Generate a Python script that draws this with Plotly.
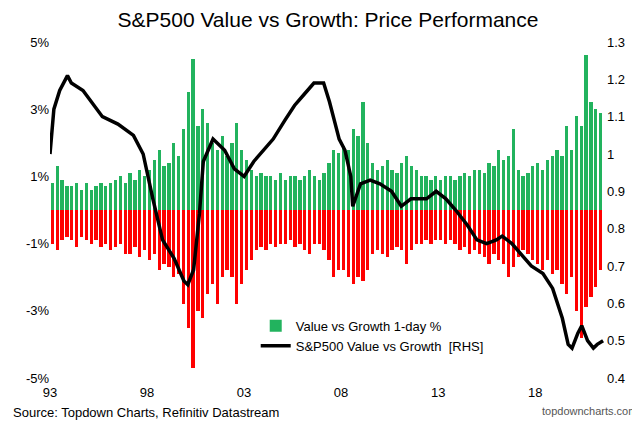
import plotly.graph_objects as go

line_years = [1993.0,1993.2,1993.5,1993.9,1994.1,1994.7,1995.7,1996.5,1997.3,1997.8,1998.3,1998.8,1999.4,1999.9,2000.1,2000.4,2000.7,2000.9,2001.4,2002.0,2002.5,2003.0,2003.5,2004.0,2004.5,2005.1,2005.6,2006.1,2006.6,2007.1,2007.4,2007.7,2007.9,2008.2,2008.5,2008.6,2009.0,2009.5,2010.0,2010.6,2011.1,2011.6,2012.4,2012.9,2013.4,2013.9,2014.5,2015.0,2015.5,2016.0,2016.3,2016.8,2017.3,2017.8,2018.4,2018.9,2019.4,2019.7,2019.9,2020.2,2020.4,2020.7,2021.0,2021.2,2021.5]
line_vals = [1.00,1.12,1.17,1.21,1.19,1.17,1.10,1.08,1.05,1.00,0.88,0.77,0.72,0.66,0.65,0.69,0.84,0.98,1.04,1.01,0.96,0.94,0.98,1.01,1.04,1.09,1.13,1.16,1.19,1.19,1.14,1.08,1.04,1.01,0.94,0.86,0.92,0.93,0.92,0.90,0.86,0.88,0.88,0.90,0.88,0.85,0.81,0.77,0.76,0.77,0.78,0.76,0.73,0.70,0.68,0.64,0.56,0.49,0.48,0.52,0.54,0.50,0.48,0.49,0.50]

pos_vals = [.8,1.3,.9,.7, .7,.8,.6,.8, .6,.7,.8,.7, .8,.9,1.0,.8, 1.1,.9,1.2,1.0,
            1.2,1.5,1.8,1.3, 1.4,2.0,1.6,2.4, 3.5,4.5,2.5,3.0, 2.6,2.0,1.8,2.2, 1.6,2.0,2.6,1.8,
            1.5,1.2,1.0,1.1, 1.0,1.0,0.9,1.1, 0.9,1.0,1.0,0.9, 1.0,1.2,1.0,0.9, 1.1,1.4,1.8,1.7,
            1.9,1.8,2.4,2.2, 3.2,2.0,1.4,1.2, 1.3,1.5,1.2,1.1, 1.4,1.6,1.3,1.2, 1.0,1.0,0.9,1.0,
            0.9,1.0,1.0,0.9, 1.0,1.1,1.0,1.2, 1.2,1.1,1.4,1.3, 1.8,1.5,1.6,2.4, 1.2,1.0,1.1,1.3,
            1.4,1.2,1.5,1.6, 1.8,1.6,2.5,1.8, 2.8,2.5,4.6,3.2, 3.0,2.9]
neg_vals = [-1.0,-1.2,-0.9,-0.8, -0.9,-1.1,-0.8,-0.9, -1.0,-0.9,-1.1,-1.0, -1.2,-1.1,-1.0,-1.3, -1.3,-1.1,-1.4,-1.2,
            -1.5,-1.3,-1.8,-1.6, -1.7,-2.0,-1.9,-2.8, -3.5,-4.7,-3.0,-3.2, -2.5,-2.2,-2.8,-2.0, -1.8,-2.0,-2.8,-2.2,
            -1.8,-1.5,-1.2,-1.1, -1.2,-1.0,-1.1,-1.0, -1.0,-0.9,-1.1,-1.0, -1.2,-1.3,-1.0,-1.0, -1.2,-1.5,-2.0,-1.8,
            -1.8,-2.0,-2.2,-2.0, -2.1,-1.8,-1.3,-1.2, -1.3,-1.4,-1.2,-1.1, -1.2,-1.6,-1.2,-1.0, -1.0,-0.9,-1.0,-0.9,
            -0.9,-1.0,-0.9,-1.0, -1.2,-1.1,-1.3,-1.2, -1.3,-1.4,-1.6,-1.3, -1.5,-1.6,-2.0,-1.7, -1.4,-1.2,-1.3,-1.5,
            -1.6,-1.8,-1.5,-1.9, -1.8,-2.2,-2.5,-2.0, -3.0,-3.8,-2.9,-2.6, -2.3,-1.8]
bar_years = [1993.125 + 0.25 * i for i in range(len(pos_vals))]

x_tickvals = [1993, 1998, 2003, 2008, 2013, 2018]
x_ticktext = ["93", "98", "03", "08", "13", "18"]
yl_ticks = [-5, -3, -1, 1, 3, 5]
yr_ticks = [0.4, 0.5, 0.6, 0.7, 0.8, 0.9, 1.0, 1.1, 1.2, 1.3]

green = "#22b35e"
fig = go.Figure()
fig.add_trace(go.Bar(x=bar_years, y=pos_vals, width=0.17, marker=dict(color=green, line=dict(width=0)),
                     name="Value vs Growth 1-day %"))
fig.add_trace(go.Bar(x=bar_years, y=neg_vals, width=0.17, marker=dict(color="#ff0000", line=dict(width=0)),
                     showlegend=False))
fig.add_trace(go.Scatter(x=line_years, y=line_vals, yaxis="y2", mode="lines",
                         line=dict(color="black", width=3.5), name="S&P500 Value vs Growth  [RHS]"))

fig.update_layout(
    width=640, height=430, barmode="overlay", bargap=0,
    margin=dict(l=42, r=42, t=34, b=60),
    paper_bgcolor="white", plot_bgcolor="white",
    font=dict(family="Liberation Sans, Arial", size=13, color="black"),
    title=dict(text="S&P500 Value vs Growth: Price Performance", x=0.5, xanchor="center", y=0.99, yanchor="top",
               font=dict(size=21)),
    xaxis=dict(range=[1993, 2021.65], tickvals=x_tickvals, ticktext=x_ticktext, showgrid=False, zeroline=False,
               showline=False, ticks="outside", ticklen=2, tickcolor="white"),
    yaxis=dict(range=[-5, 5], tickvals=yl_ticks, ticktext=[f"{v}%" for v in yl_ticks], showgrid=False,
               zeroline=False, showline=False),
    yaxis2=dict(range=[0.4, 1.3], overlaying="y", side="right", tickvals=yr_ticks,
                ticktext=[("%g" % v) for v in yr_ticks], showgrid=False, zeroline=False),
    legend=dict(x=0.37, y=0.2, xanchor="left", yanchor="top", bgcolor="rgba(0,0,0,0)", font=dict(size=13)),
    annotations=[
        dict(text="Source: Topdown Charts, Refinitiv Datastream", xref="paper", yref="paper", x=-0.07, y=-0.075,
             xanchor="left", yanchor="top", showarrow=False, font=dict(size=13)),
        dict(text="topdowncharts.com", xref="paper", yref="paper", x=1.06, y=-0.075,
             xanchor="right", yanchor="top", showarrow=False, font=dict(size=11, color="#555")),
    ],
)
fig.write_html("out.html")
